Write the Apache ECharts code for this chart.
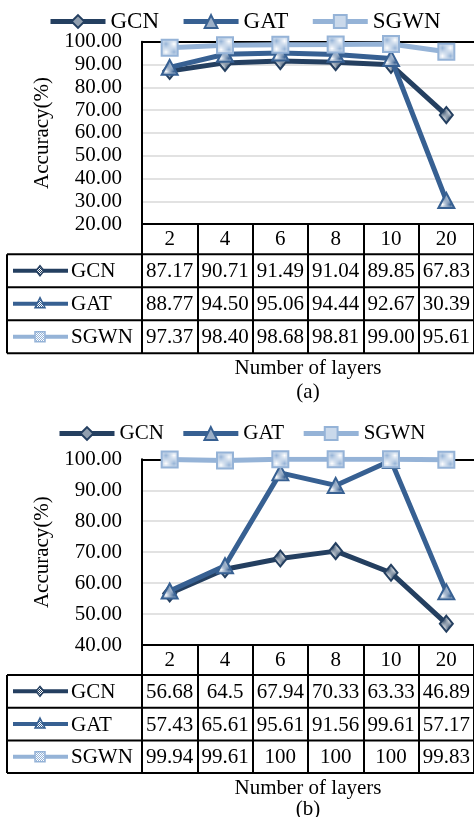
<!DOCTYPE html>
<html><head><meta charset="utf-8">
<script src="https://cdn.jsdelivr.net/npm/echarts@6/dist/echarts.min.js"></script>
<style>html,body{margin:0;padding:0;background:#fff}#c{width:474px;height:817px}</style>
</head><body><div id="c"></div>
<script>
// Categories and accuracy values (%) for the two experiments
const layers = ['2', '4', '6', '8', '10', '20'];
const seriesNames = ['GCN', 'GAT', 'SGWN'];
const gcnA = [87.17, 90.71, 91.49, 91.04, 89.85, 67.83];
const gatA = [88.77, 94.50, 95.06, 94.44, 92.67, 30.39];
const sgwnA = [97.37, 98.40, 98.68, 98.81, 99.00, 95.61];
const gcnB = [56.68, 64.5, 67.94, 70.33, 63.33, 46.89];
const gatB = [57.43, 65.61, 95.61, 91.56, 99.61, 57.17];
const sgwnB = [99.94, 99.61, 100, 100, 100, 99.83];
const yMinA = 20, yMinB = 40, yMax = 100, yStep = 10;
const xTitle = 'Number of layers';
const yTitle = 'Accuracy(%)';
const captions = ['(a)', '(b)'];

const FONT = '"Liberation Serif", "Times New Roman", serif';
const colors = ['#243f60', '#376092', '#95b3d7'];
const symbols = ['diamond', 'triangle', 'rect'];
const symbolSizes = [[13, 16], [16, 15], [16, 16]];

function checker(c) {
  const cv = document.createElement('canvas');
  cv.width = 2; cv.height = 2;
  const g = cv.getContext('2d');
  g.fillStyle = '#fff'; g.fillRect(0, 0, 2, 2);
  g.fillStyle = c; g.fillRect(0, 0, 1, 1); g.fillRect(1, 1, 1, 1);
  return { image: cv, repeat: 'repeat' };
}
const patterns = colors.map(checker);

const panels = [
  { values: [gcnA, gatA, sgwnA], min: yMinA, fmt: v => v.toFixed(2),
    top: 41.7, height: 182.5, headH: 30, rowH: 33, legendTop: 10, legendLeft: 48,
    legendGap: 22, legendFont: 23, nameGap: 144, captionY: 392 },
  { values: [gcnB, gatB, sgwnB], min: yMinB, fmt: v => String(v),
    top: 459.3, height: 185.7, headH: 30, rowH: 32.7, legendTop: 423, legendLeft: 57,
    legendGap: 17, legendFont: 21, nameGap: 143, captionY: 809 }
];

const chart = echarts.init(document.getElementById('c'), null, { renderer: 'canvas' });

const grid = [], xAxis = [], yAxis = [], series = [], legend = [];
panels.forEach((p, i) => {
  grid.push({ left: 142, top: p.top, width: 333, height: p.height, containLabel: false });
  xAxis.push({
    type: 'category', gridIndex: i, data: layers, boundaryGap: true,
    axisLine: { lineStyle: { color: '#000', width: 2 } },
    axisTick: { show: true, length: p.headH + 3 * p.rowH, lineStyle: { color: '#000', width: 2 } },
    axisLabel: { margin: 15, verticalAlign: 'middle', fontSize: 21, fontFamily: FONT, color: '#000' },
    name: xTitle, nameLocation: 'middle', nameGap: p.nameGap,
    nameTextStyle: { fontSize: 21, fontFamily: FONT, color: '#000', verticalAlign: 'middle' }
  });
  yAxis.push({
    type: 'value', gridIndex: i, min: p.min, max: yMax, interval: yStep,
    axisLine: { show: true, lineStyle: { color: '#000', width: 2 } },
    axisTick: { show: false },
    axisLabel: { formatter: v => v.toFixed(2), margin: 20, fontSize: 21, fontFamily: FONT, color: '#000' },
    splitLine: { lineStyle: { color: '#d9d9d9', width: 1.5 } },
    name: yTitle, nameLocation: 'middle', nameRotate: 90, nameGap: 92,
    nameTextStyle: { fontSize: 21, fontFamily: FONT, color: '#000', verticalAlign: 'middle' }
  });
  legend.push({
    top: p.legendTop, left: p.legendLeft, padding: 0, itemWidth: 55, itemHeight: 16, itemGap: p.legendGap,
    data: seriesNames, selectedMode: false,
    lineStyle: { width: 5 },
    textStyle: { fontSize: p.legendFont, fontFamily: FONT, color: '#000' }
  });
  p.values.forEach((vals, k) => {
    series.push({
      type: 'line', name: seriesNames[k], xAxisIndex: i, yAxisIndex: i, data: vals,
      symbol: symbols[k], symbolSize: symbolSizes[k], showAllSymbol: true,
      lineStyle: { color: colors[k], width: 5 },
      itemStyle: { color: patterns[k], borderColor: colors[k], borderWidth: 2 },
      emphasis: { disabled: true }, animation: false, z: 3 + k
    });
  });
});
// top border of each plot area
panels.forEach((p, i) => {
  xAxis.push({
    type: 'category', gridIndex: i, data: layers, position: 'top', z: 5,
    axisLine: { lineStyle: { color: '#000', width: 2 } },
    axisTick: { show: false }, axisLabel: { show: false }
  });
});

chart.setOption({ animation: false, grid, xAxis, yAxis, legend, series });

// data table beneath each plot, positioned by the category axis
function txt(text, x, y, align) {
  return {
    type: 'text', silent: true, z: 10,
    style: { text, x, y, fill: '#000', font: '21px ' + FONT,
      textAlign: align, align, textVerticalAlign: 'middle', verticalAlign: 'middle' }
  };
}
function line(x1, y1, x2, y2, stroke, w) {
  return { type: 'line', silent: true, z: 9, shape: { x1, y1, x2, y2 },
    style: { stroke, lineWidth: w } };
}
function iconMarker(k, cx, cy) {
  const st = { fill: patterns[k], stroke: colors[k], lineWidth: 1.5 };
  if (k === 0) return { type: 'polygon', silent: true, z: 11,
    shape: { points: [[cx, cy - 5], [cx + 4, cy], [cx, cy + 5], [cx - 4, cy]] }, style: st };
  if (k === 1) return { type: 'polygon', silent: true, z: 11,
    shape: { points: [[cx, cy - 6], [cx + 5, cy + 4], [cx - 5, cy + 4]] }, style: st };
  return { type: 'rect', silent: true, z: 11,
    shape: { x: cx - 5, y: cy - 5, width: 10, height: 10 }, style: st };
}

const graphic = [];
panels.forEach((p, i) => {
  const xs = layers.map((c, j) => chart.convertToPixel({ xAxisIndex: i }, j));
  const yBase = chart.convertToPixel({ yAxisIndex: i }, p.min);
  const t0 = yBase + p.headH;
  const tEnd = t0 + 3 * p.rowH;
  for (let r = 0; r <= 3; r++) graphic.push(line(7, t0 + r * p.rowH, 476, t0 + r * p.rowH, '#000', 2));
  graphic.push(line(7, t0, 7, tEnd, '#000', 2));
  p.values.forEach((vals, k) => {
    const cy = t0 + k * p.rowH + p.rowH / 2;
    graphic.push(line(13, cy, 68, cy, colors[k], 4));
    graphic.push(iconMarker(k, 40, cy));
    graphic.push(txt(seriesNames[k], 71, cy + 1, 'left'));
    vals.forEach((v, j) => graphic.push(txt(p.fmt(v), xs[j], cy + 1, 'center')));
  });
  graphic.push(txt(captions[i], 308, p.captionY, 'center'));
});
chart.setOption({ graphic });
</script>
</body></html>
